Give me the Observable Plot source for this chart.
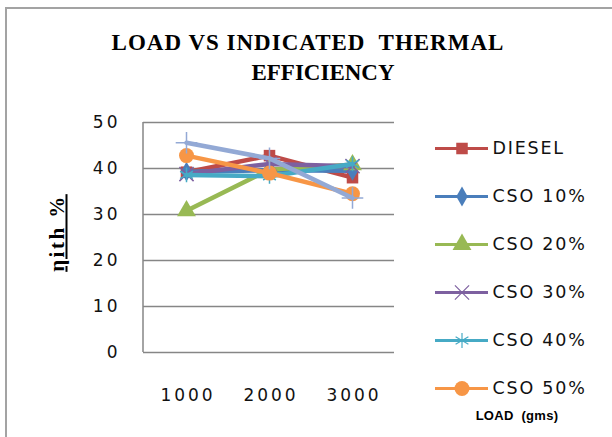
<!DOCTYPE html>
<html><head><meta charset="utf-8">
<script src="https://cdn.jsdelivr.net/npm/d3@7"></script>
<script src="https://cdn.jsdelivr.net/npm/@observablehq/plot@0.6"></script>
<style>
body{margin:0;background:#fff;}
#chart{position:relative;width:612px;height:437px;overflow:hidden;background:#fff;}
#frame{position:absolute;left:5px;top:7px;width:640px;height:460px;border-left:2px solid #a3a3a3;border-top:2px solid #a3a3a3;}
.t{position:absolute;font-family:"Liberation Serif",serif;font-weight:bold;color:#000;white-space:pre;line-height:1;transform:translateX(-50%);}
#t1{left:308px;top:31px;font-size:23px;letter-spacing:1px;word-spacing:0px;}
#t2{left:323px;top:61px;font-size:23px;letter-spacing:0px;}
#ylab{position:absolute;left:57px;top:233px;transform:translate(-50%,-50%) rotate(-90deg);font-family:"Liberation Serif",serif;font-weight:bold;font-size:21px;text-decoration:underline;white-space:pre;letter-spacing:2.5px;}
#xlab{position:absolute;left:517px;top:415px;transform:translate(-50%,-50%);font-family:"Liberation Sans",sans-serif;font-weight:bold;font-size:13px;letter-spacing:0.3px;white-space:pre;}
#main,#legend{position:absolute;top:0;left:0;}
#legend{left:420px;top:120px;}
#main text{letter-spacing:3px;}
#legend text{letter-spacing:1.8px;}
</style>
</head><body>
<div id="chart">
  <div id="frame"></div>
  <div class="t" id="t1">LOAD VS INDICATED  THERMAL</div>
  <div class="t" id="t2">EFFICIENCY</div>
  <div id="main"></div>
  <div id="legend"></div>
  <div id="ylab">ηith %</div>
  <div id="xlab">LOAD  (gms)</div>
</div>
<script>
const loads = ["1000", "2000", "3000"];
const yTicks = [0, 10, 20, 30, 40, 50];
const seriesNames = ["DIESEL", "CSO 10%", "CSO 20%", "CSO 30%", "CSO 40%", "CSO 50%", "CSO 60%"];
const diesel = [39.2, 42.8, 38.0];
const cso10 = [39.3, 39.6, 39.5];
const cso20 = [30.8, 39.8, 40.8];
const cso30 = [38.8, 41.0, 40.5];
const cso40 = [38.6, 38.3, 41.0];
const cso50 = [42.8, 39.0, 34.5];
const cso60 = [45.6, 42.2, 33.6];
const legendNames = ["DIESEL", "CSO 10%", "CSO 20%", "CSO 30%", "CSO 40%", "CSO 50%"];

const seriesValues = [diesel, cso10, cso20, cso30, cso40, cso50, cso60];
const colors = ["#BE4B48", "#4A7EBB", "#98B954", "#7D60A0", "#46AAC5", "#F79646", "#93A9D5"];
const symbols = ["square", "diamond", "triangle", "times", "asterisk", "circle", "plus"];
const filled = [true, true, true, false, false, true, false];
const radii = [6.5, 6, 7, 6.5, 7, 7.5, 7];

const rows = seriesNames.flatMap((s, i) => loads.map((l, j) => ({series: s, load: l, value: seriesValues[i][j]})));

const seriesMarks = seriesNames.flatMap((s, i) => {
  const data = rows.filter(r => r.series === s);
  return [
    Plot.line(data, {x: "load", y: "value", stroke: colors[i], strokeWidth: 4.5, strokeLinejoin: "round"}),
    Plot.dot(data, {x: "load", y: "value", symbol: () => symbols[i], r: radii[i],
      fill: filled[i] ? colors[i] : "none", stroke: colors[i], strokeWidth: filled[i] ? 0 : 1.5})
  ];
});

const leftAxisLine = (index, scales, values, dimensions) => {
  const svg = d3.create("svg:line")
    .attr("x1", dimensions.marginLeft).attr("x2", dimensions.marginLeft)
    .attr("y1", scales.y(50)).attr("y2", scales.y(0))
    .attr("stroke", "#868686").attr("stroke-width", 1.5);
  return svg.node();
};

const main = Plot.plot({
  width: 612, height: 437,
  marginLeft: 143, marginRight: 218, marginTop: 122, marginBottom: 85,
  x: {type: "point", domain: loads, padding: 0.5, label: null},
  y: {domain: [0, 50], label: null},
  style: {background: "transparent", fontFamily: "DejaVu Sans", fontSize: "17px", color: "#111", overflow: "visible"},
  marks: [
    Plot.gridY(yTicks, {stroke: "#868686", strokeOpacity: 1, strokeWidth: 1.5}),
    leftAxisLine,
    Plot.axisY(yTicks, {tickSize: 0, tickPadding: 23, fontSize: 17}),
    Plot.axisX(loads, {tickSize: 0, tickPadding: 36, fontSize: 17, dx: 1.5}),
    ...seriesMarks
  ]
});
document.getElementById("main").appendChild(main);

const legendMarks = legendNames.flatMap((s, i) => [
  Plot.ruleY([s], {y: d => d, x1: 0, x2: 1, stroke: colors[i], strokeWidth: 3}),
  Plot.dot([s], {x: 0.5, y: d => d, symbol: () => symbols[i], r: radii[i],
    fill: filled[i] ? colors[i] : "none", stroke: colors[i], strokeWidth: filled[i] ? 0 : 1.2}),
  Plot.text([s], {x: 1, y: d => d, text: d => d, textAnchor: "start", dx: 4, fill: "#111",
    fontSize: 17.5, fontFamily: "DejaVu Sans"})
]);

const legend = Plot.plot({
  width: 192, height: 300, margin: 0,
  x: {domain: [0, 1], range: [15, 68], axis: null},
  y: {type: "point", domain: legendNames, range: [27, 268], padding: 0, axis: null},
  style: {background: "transparent", overflow: "visible"},
  marks: legendMarks
});
document.getElementById("legend").appendChild(legend);
</script>
</body></html>
